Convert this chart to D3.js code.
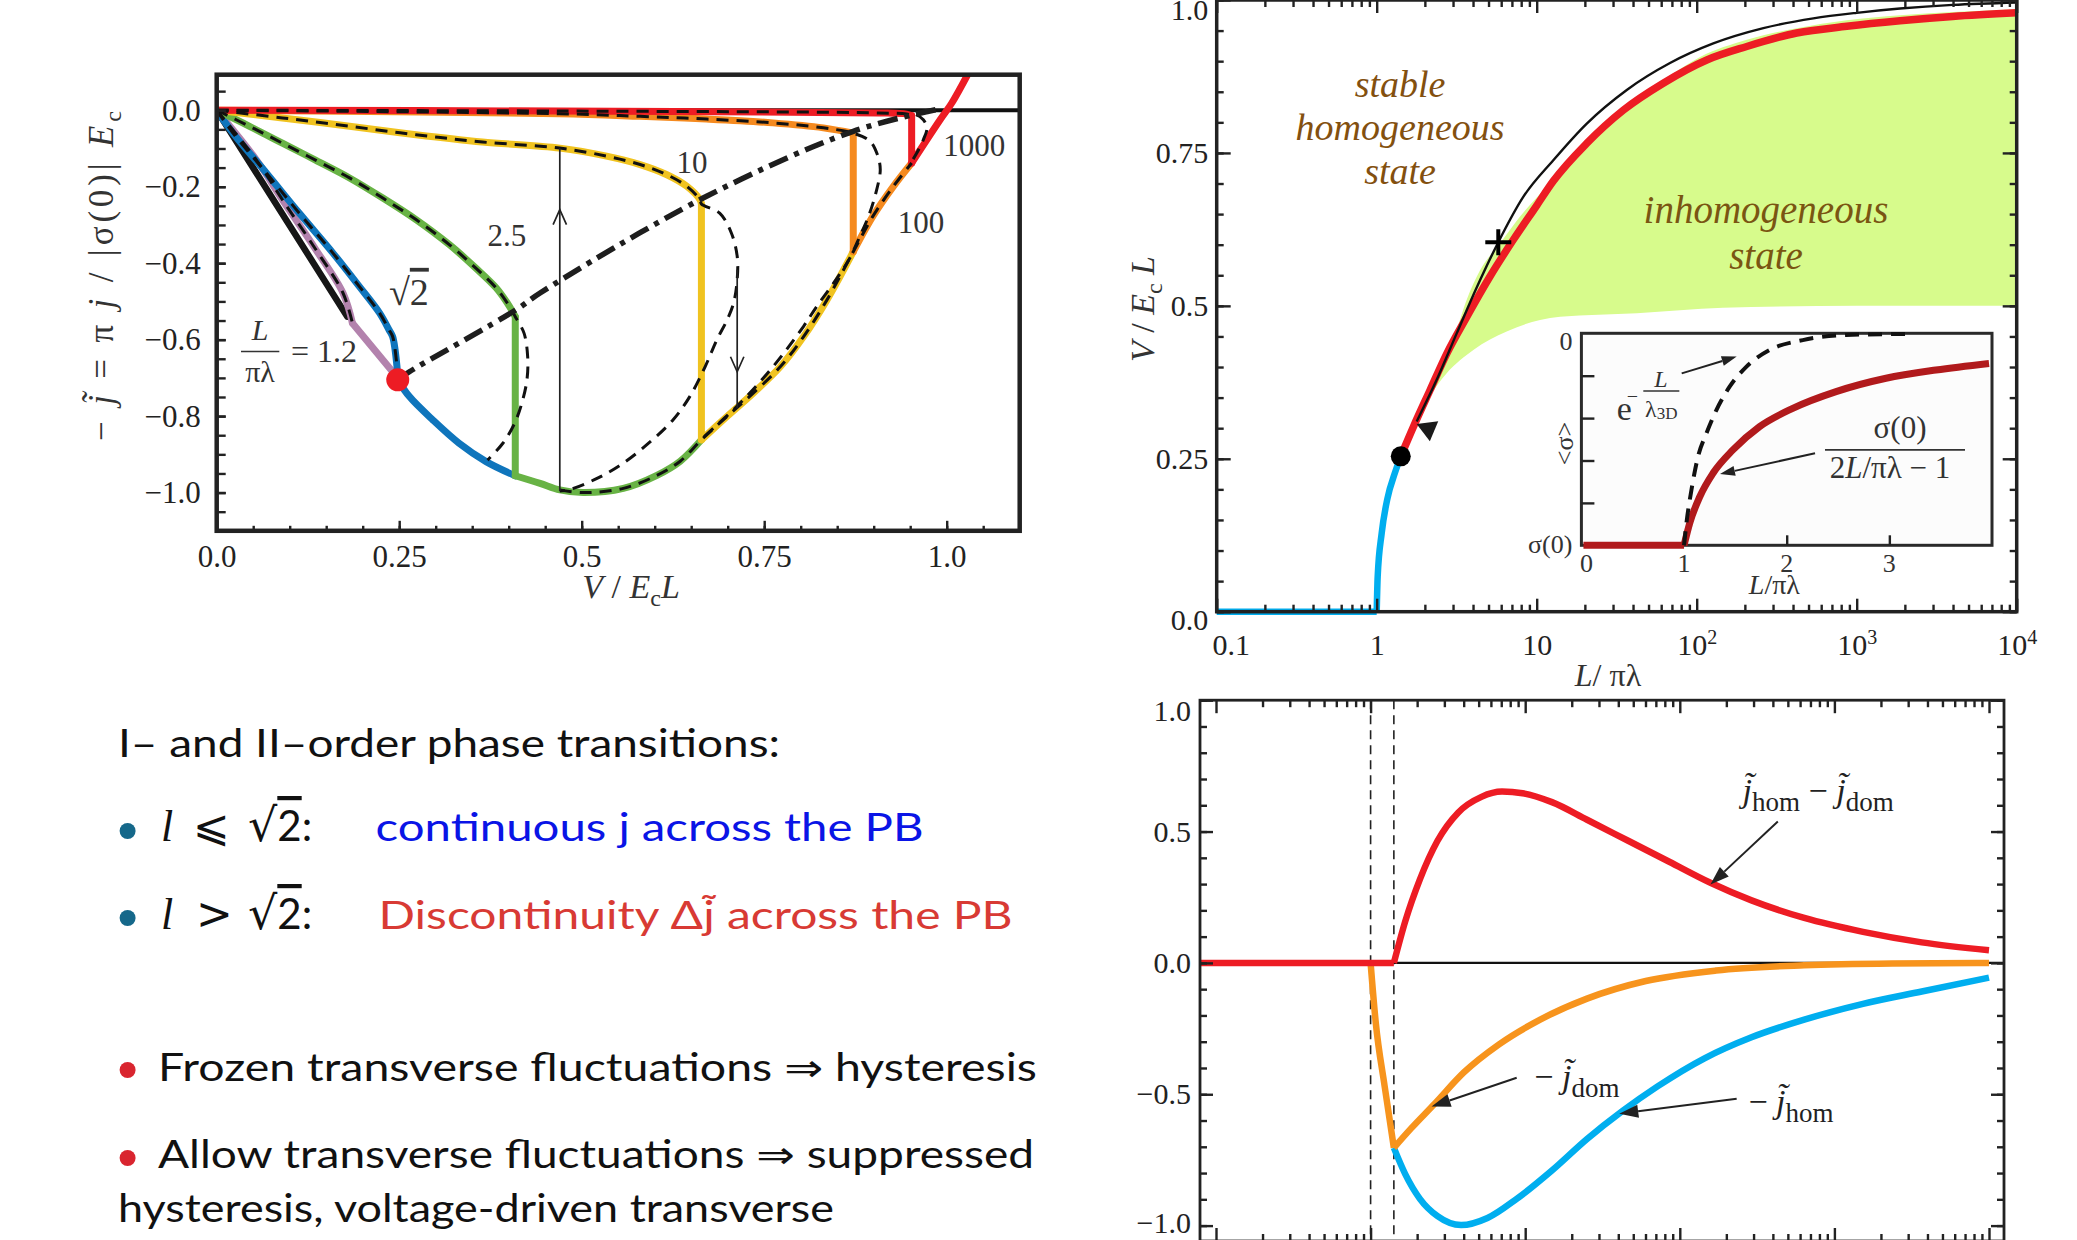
<!DOCTYPE html>
<html>
<head>
<meta charset="utf-8">
<script src="https://cdn.jsdelivr.net/npm/d3@7"></script>
<style>
  body { margin: 0; background: #fff; }
  svg { display: block; }
</style>
</head>
<body>
<svg id="chart" width="2077" height="1240"></svg>
<script>
//---------------- data ----------------

//Left panel: current vs voltage, [V/EcL, -j]
const ivEnvelope = [[0.248,-0.705],[0.264,-0.749],[0.296,-0.810],[0.332,-0.871],[0.369,-0.919],[0.409,-0.956],
  [0.443,-0.976],[0.470,-0.993],[0.502,-1.000],[0.557,-0.989],[0.603,-0.955],[0.635,-0.918],[0.664,-0.862],
  [0.699,-0.801],[0.735,-0.740],[0.772,-0.671],[0.804,-0.592],[0.836,-0.496],[0.872,-0.370],[0.899,-0.277],
  [0.927,-0.199],[0.952,-0.138],[0.991,-0.025],[1.007,0.019],[1.030,0.098]];
const ivL1 = [[0,0],[0.179,-0.540]];
const ivL12 = [[0,0],[0.054,-0.129],[0.090,-0.234],[0.136,-0.365],[0.173,-0.478],[0.186,-0.557]];
const ivL12Tail = [[0.186,-0.557],[0.241,-0.684],[0.248,-0.705]];
const ivSqrt2 = [[0,0],[0.022,-0.059],[0.068,-0.164],[0.113,-0.269],[0.159,-0.373],[0.195,-0.460],
  [0.223,-0.530],[0.236,-0.574],[0.241,-0.592],[0.247,-0.671],[0.248,-0.705]];
const iv25 = [[0,0],[0.045,-0.042],[0.090,-0.086],[0.136,-0.131],[0.182,-0.177],[0.227,-0.229],[0.273,-0.286],
  [0.319,-0.352],[0.355,-0.413],[0.383,-0.465],[0.401,-0.513],[0.409,-0.540]];
const iv10 = [[0,0],[0.090,-0.020],[0.182,-0.042],[0.273,-0.064],[0.364,-0.083],[0.470,-0.099],[0.534,-0.120],
  [0.580,-0.142],[0.616,-0.168],[0.644,-0.199],[0.662,-0.234],[0.664,-0.245]];
const iv100 = [[0,0],[0.469,-0.009],[0.580,-0.016],[0.671,-0.023],[0.762,-0.033],[0.831,-0.046],[0.872,-0.060]];
const iv1000 = [[0,0],[0.469,-0.002],[0.906,-0.007],[0.945,-0.010],[0.952,-0.014]];
const ivUnstable25 = [[0.421,-0.583],[0.426,-0.645],[0.425,-0.705],[0.418,-0.766],[0.408,-0.819],[0.392,-0.871],[0.371,-0.915]];
const ivUnstable10 = [[0.689,-0.269],[0.705,-0.321],[0.713,-0.382],[0.713,-0.443],[0.708,-0.505],[0.699,-0.549],
  [0.685,-0.601],[0.669,-0.671],[0.648,-0.749],[0.625,-0.810],[0.594,-0.867],[0.557,-0.923],[0.521,-0.963],
  [0.482,-0.993],[0.470,-0.996]];
const ivUnstable100 = [[0.895,-0.081],[0.905,-0.116],[0.909,-0.155],[0.903,-0.216],[0.893,-0.277],[0.881,-0.330],
  [0.866,-0.391],[0.845,-0.452],[0.822,-0.513],[0.804,-0.565],[0.762,-0.671],[0.717,-0.766],[0.664,-0.860]];
const ivUnstable1000 = [[0.957,-0.011],[0.968,-0.025],[0.973,-0.046],[0.968,-0.077],[0.959,-0.112],[0.953,-0.131]];
const ivSpinodal = [[0.248,-0.705],[0.264,-0.684],[0.410,-0.522],[0.443,-0.478],[0.667,-0.229],[0.872,-0.055],[0.986,0.002]];
const ivCritical = [0.248,-0.705];
//[V, from, to, head]
const ivArrowUp = [0.470,-0.996,-0.099,-0.26];
const ivArrowDown = [0.713,-0.417,-0.780,-0.684];
const ivLabels = [["1000",0.9953,-0.120],["100",0.933,-0.321],["10",0.630,-0.164],["2.5",0.371,-0.356]];
const ivXTicks = [0,0.25,0.5,0.75,1.0];
const ivXTickLabels = ["0.0","0.25","0.5","0.75","1.0"];
const ivYTicks = [0,-0.2,-0.4,-0.6,-0.8,-1.0];

//Right top: phase diagram, [L/pi lambda, V/EcL]
const phaseBlueFlat = [[0.1,0],[1,0]];
const phaseBlue = [[1,0],[1.014,0.057],[1.074,0.128],[1.167,0.185],[1.30,0.227],[1.414,0.254]];
const phaseRed = [[1.414,0.254],[1.694,0.302],[2.153,0.362],[2.742,0.422],[3.656,0.482],[5.105,0.548],[7.145,0.608],
  [10,0.664],[12.7,0.704],[20.6,0.766],[34.8,0.820],[61.8,0.864],[115.6,0.902],[205.6,0.924],[421.7,0.946],
  [867,0.957],[1866,0.966],[3981,0.973],[10000,0.979]];
const phaseBlack = [[1.778,0.311],[2.371,0.379],[3.162,0.455],[4.217,0.530],[5.754,0.604],[8.24,0.678],[12.7,0.738],
  [20.56,0.798],[36.56,0.853],[68.1,0.897],[127,0.929],[261,0.954],[536,0.970],[1000,0.979],[1866,0.986],
  [3981,0.992],[10000,0.996]];
const phaseGreenUpper = [[2.053,0.346],[3.013,0.444],[3.652,0.510],[4.426,0.558],[5.902,0.602],[7.870,0.646],
  [11.56,0.695],[16.94,0.744],[24.89,0.788],[38.28,0.831],[61.8,0.869],[105,0.907],[205.6,0.935],[421.7,0.954],
  [867,0.967],[1866,0.975],[10000,0.985]];
const phaseGreenLower = [[2.053,0.346],[2.738,0.390],[4.018,0.428],[6.494,0.458],[10.5,0.477],[14.0,0.482],
  [42.3,0.488],[145.9,0.497],[1000,0.5],[10000,0.5]];
const phaseDot = [1.414,0.254];
const phaseCross = [5.754,0.604];
const phaseTriangle = [2.10,0.299];
const phaseXTicks = [0.1,1,10,100,1000,10000];
const phaseYTicks = [0,0.25,0.5,0.75,1.0];
const phaseYTickLabels = ["0.0","0.25","0.5","0.75","1.0"];

//Inset: <sigma>/|sigma(0)| vs L/pi lambda
const insetRedFlat = [[0.02,-1],[1,-1]];
const insetRed = [[1,-1],[1.055,-0.896],[1.153,-0.771],[1.282,-0.660],[1.476,-0.550],[1.736,-0.440],[2.059,-0.354],
  [2.481,-0.275],[2.967,-0.212],[3.453,-0.173],[3.971,-0.142]];
const insetDashed = [[1,-1],[1.023,-0.896],[1.072,-0.739],[1.136,-0.582],[1.218,-0.472],[1.315,-0.362],[1.444,-0.252],
  [1.606,-0.158],[1.833,-0.079],[2.157,-0.032],[2.578,-0.008],[3.161,-0.003]];
const insetArrows = [[0.977,-0.189,1.513,-0.110],[2.276,-0.566,1.350,-0.664]];

//Right bottom: currents vs L/pi lambda
const brRedFlat = [[0.0788,0],[1.414,0]];
const brRed = [[1.414,0],[1.675,0.158],[2.084,0.318],[2.710,0.465],[3.681,0.572],[5.212,0.632],[7.079,0.652],
  [9.616,0.646],[14.89,0.612],[25.12,0.545],[46.35,0.465],[85.5,0.385],[157.8,0.305],[291.1,0.238],[638.3,0.171],
  [1531,0.118],[3673,0.078],[10000,0.048]];
const brOrangeDrop = [[1,0],[1.081,-0.230],[1.233,-0.470],[1.414,-0.704]];
const brOrange = [[1.414,-0.704],[1.828,-0.630],[2.588,-0.537],[4.009,-0.417],[6.776,-0.310],[12.5,-0.216],
  [25.12,-0.136],[60.26,-0.069],[171.8,-0.029],[638.3,-0.009],[2371,-0.002],[10000,0]];
const brBlue = [[1.414,-0.704],[1.675,-0.804],[2.084,-0.898],[2.710,-0.964],[3.846,-0.998],[5.702,-0.971],
  [8.81,-0.898],[14.89,-0.790],[25.12,-0.670],[42.46,-0.564],[71.78,-0.470],[144.5,-0.363],[291.1,-0.283],
  [638.3,-0.216],[1531,-0.156],[3673,-0.109],[10000,-0.056]];
const brZero = [[1.414,0],[12500,0]];
const brBoundaries = [1, 1.414];
const brArrows = [[430.5,0.538,157.8,0.298],[8.81,-0.437,2.48,-0.547],[233.3,-0.517,40.6,-0.574]];
const brYTicks = [-1,-0.5,0,0.5,1];

//---------------- helpers ----------------
const svg = d3.select("#chart");
const serif = '"Liberation Serif","Times New Roman",serif';
const ink = "#222";

function ticks(g, scale, orient, pos, values, len, fmt, pad, fs) {
  const make = {bottom: d3.axisBottom, top: d3.axisTop, left: d3.axisLeft, right: d3.axisRight}[orient];
  const ax = make(scale).tickValues(values).tickSizeInner(-len).tickSizeOuter(0)
    .tickPadding(pad || 0).tickFormat(fmt || (() => ""));
  const horiz = orient === "bottom" || orient === "top";
  const s = g.append("g")
    .attr("transform", horiz ? "translate(0," + pos + ")" : "translate(" + pos + ",0)")
    .call(ax);
  s.select(".domain").remove();
  s.selectAll(".tick line").attr("stroke", ink).attr("stroke-width", 2.4);
  s.selectAll(".tick text").attr("fill", ink)
    .style("font-family", serif).style("font-size", (fs || 30) + "px");
  return s;
}

function logMinors(lo, hi) {
  const out = [];
  for (let d = lo; d < hi; d *= 10) for (let k = 2; k <= 9; k++) out.push(d * k);
  return out;
}

function arrowTo(g, x1, y1, x2, y2, len, half) {
  const a = Math.atan2(y2 - y1, x2 - x1);
  const bx = x2 - len * Math.cos(a), by = y2 - len * Math.sin(a);
  g.append("line").attr("x1", x1).attr("y1", y1).attr("x2", bx).attr("y2", by)
    .attr("stroke", ink).attr("stroke-width", 2);
  g.append("path")
    .attr("d", "M" + x2 + "," + y2 + "L" + (bx - half * Math.sin(a)) + "," + (by + half * Math.cos(a)) +
      "L" + (bx + half * Math.sin(a)) + "," + (by - half * Math.cos(a)) + "Z")
    .attr("fill", ink);
}

//---------------- left panel ----------------
const tlX = d3.scaleLinear().domain([0, 1.1]).range([216.7, 1019.7]);
const tlY = d3.scaleLinear().domain([-1.1, 0.093]).range([530.8, 74.7]);
const tl = svg.append("g");

svg.append("clipPath").attr("id", "tlClip").append("rect")
  .attr("x", tlX(0)).attr("y", tlY(0.093))
  .attr("width", tlX(1.1) - tlX(0)).attr("height", tlY(-1.1) - tlY(0.093));
const tlPlot = tl.append("g").attr("clip-path", "url(#tlClip)");

const tlCurve = d3.line().x(d => tlX(d[0])).y(d => tlY(d[1])).curve(d3.curveCatmullRom.alpha(0.5));
const tlLin = d3.line().x(d => tlX(d[0])).y(d => tlY(d[1]));
const envSeg = (a, b) => ivEnvelope.filter(d => d[0] >= a - 1e-6 && d[0] <= b + 1e-6);
const drop = br => { const p = br[br.length - 1]; return [p, ivEnvelope.find(d => Math.abs(d[0] - p[0]) < 1e-6)]; };

function solid(pts, color, w, lin) {
  tlPlot.append("path").attr("d", (lin ? tlLin : tlCurve)(pts))
    .attr("fill", "none").attr("stroke", color).attr("stroke-width", w)
    .attr("stroke-linecap", "round").attr("stroke-linejoin", "round");
}
function dashed(pts) {
  tlPlot.append("path").attr("d", tlCurve(pts))
    .attr("fill", "none").attr("stroke", "#111").attr("stroke-width", 3)
    .attr("stroke-dasharray", "12,8");
}

//zero line
solid([[0, 0], [1.1, 0]], "#111", 4, true);

//solution branches
solid(ivL1, "#161616", 6.5, true);
solid(ivL12, "#b382ad", 7);
solid(ivL12Tail, "#b382ad", 7, true);
solid(ivSqrt2, "#0f75bc", 7);
solid(envSeg(0.248, 0.409), "#0f75bc", 7);
const branches = [[iv25, "#68b345", 0.409, 0.664], [iv10, "#f0c320", 0.664, 0.872],
  [iv100, "#f58a1f", 0.872, 0.952], [iv1000, "#ed1c24", 0.952, 1.1]];
branches.forEach(b => {
  solid(b[0], b[1], 7);
  solid(drop(b[0]), b[1], 7, true);
  solid(envSeg(b[2], b[3]), b[1], 7);
});

//dashed overlays
dashed(ivL12);
dashed(ivSqrt2);
dashed(iv25.concat(ivUnstable25));
dashed(iv10.concat(ivUnstable10));
dashed(iv100.concat(ivUnstable100));
dashed(iv1000.concat(ivUnstable1000));
dashed(envSeg(0.470, 0.952));

//transition line
tlPlot.append("path").attr("d", tlCurve(ivSpinodal))
  .attr("fill", "none").attr("stroke", "#1e1e1e").attr("stroke-width", 5.5)
  .attr("stroke-dasharray", "20,7,5,7");

//hysteresis arrows
[[ivArrowUp, -1], [ivArrowDown, 1]].forEach(([a, dir]) => {
  const x = tlX(a[0]);
  tl.append("line").attr("x1", x).attr("x2", x).attr("y1", tlY(a[1])).attr("y2", tlY(a[2]))
    .attr("stroke", ink).attr("stroke-width", 1.7);
  const hy = tlY(a[3]);
  tl.append("path").attr("d", "M" + (x - 6.7) + "," + (hy - dir * 15) + "L" + x + "," + hy + "L" + (x + 6.7) + "," + (hy - dir * 15))
    .attr("fill", "none").attr("stroke", ink).attr("stroke-width", 1.7);
});

//critical point
tl.append("circle").attr("cx", tlX(ivCritical[0])).attr("cy", tlY(ivCritical[1])).attr("r", 11.5).attr("fill", "#ed1c24");

//curve labels
tl.selectAll(".ivlab").data(ivLabels).enter().append("text")
  .attr("x", d => tlX(d[1])).attr("y", d => tlY(d[2]))
  .style("font-family", serif).style("font-size", "31px").attr("fill", "#333")
  .text(d => d[0]);
const s2 = tl.append("text").attr("x", tlX(0.236)).attr("y", tlY(-0.509))
  .style("font-family", serif).style("font-size", "38px").attr("fill", "#333");
s2.append("tspan").text("√");
s2.append("tspan").text("2").style("text-decoration", "overline");
const fracX = tlX(0.0593);
tl.append("text").attr("x", fracX).attr("y", tlY(-0.601)).attr("text-anchor", "middle")
  .style("font-family", serif).style("font-size", "30px").style("font-style", "italic").attr("fill", "#333").text("L");
tl.append("line").attr("x1", tlX(0.0333)).attr("x2", tlX(0.0858)).attr("y1", tlY(-0.631)).attr("y2", tlY(-0.631))
  .attr("stroke", "#333").attr("stroke-width", 1.6);
tl.append("text").attr("x", fracX).attr("y", tlY(-0.710)).attr("text-anchor", "middle")
  .style("font-family", serif).style("font-size", "30px").attr("fill", "#333").text("πλ");
tl.append("text").attr("x", tlX(0.1018)).attr("y", tlY(-0.658))
  .style("font-family", serif).style("font-size", "32px").attr("fill", "#333").text("= 1.2");

//frame and ticks
tl.append("rect").attr("x", tlX(0)).attr("y", tlY(0.093))
  .attr("width", tlX(1.1) - tlX(0)).attr("height", tlY(-1.1) - tlY(0.093))
  .attr("fill", "none").attr("stroke", ink).attr("stroke-width", 4.5);
ticks(tl, tlX, "bottom", tlY(-1.1), d3.range(0.05, 1.1, 0.05), 5);
ticks(tl, tlX, "bottom", tlY(-1.1), ivXTicks, 10, (d, i) => ivXTickLabels[i], 14, 31);
ticks(tl, tlY, "left", tlX(0), d3.range(-1.05, 0.06, 0.05), 9);
ticks(tl, tlY, "left", tlX(0), ivYTicks, 9, d3.format(".1f"), 16, 31);

//axis titles
const tlxt = tl.append("text").attr("x", 631).attr("y", 598).attr("text-anchor", "middle")
  .style("font-family", serif).style("font-size", "34px").attr("fill", "#333");
tlxt.append("tspan").style("font-style", "italic").text("V");
tlxt.append("tspan").text(" / ");
tlxt.append("tspan").style("font-style", "italic").text("E");
tlxt.append("tspan").attr("dy", 8).style("font-size", "24px").text("c");
tlxt.append("tspan").attr("dy", -8).style("font-style", "italic").text("L");
const tlyt = tl.append("text").attr("transform", "translate(113,276) rotate(-90)").attr("text-anchor", "middle")
  .style("font-family", serif).style("font-size", "35px").attr("fill", "#333")
  .attr("textLength", 330).attr("lengthAdjust", "spacing");
tlyt.append("tspan").text("− ");
tlyt.append("tspan").style("font-style", "italic").text("j\u0303");
tlyt.append("tspan").text(" = π ");
tlyt.append("tspan").style("font-style", "italic").text("j");
tlyt.append("tspan").text(" / |σ(0)| ");
tlyt.append("tspan").style("font-style", "italic").text("E");
tlyt.append("tspan").attr("dy", 8).style("font-size", "24px").text("c");

//---------------- right top panel ----------------
const trX = d3.scaleLog().domain([0.1, 1e4]).range([1216.7, 2016.7]);
const trY = d3.scaleLinear().domain([0, 1]).range([611.7, 0]);
const tr = svg.append("g");
const trLine = d3.line().x(d => trX(d[0])).y(d => trY(d[1])).curve(d3.curveMonotoneX);

//inhomogeneous region
const upperPath = trLine(phaseGreenUpper);
const lowerPath = trLine(phaseGreenLower.slice().reverse());
tr.append("path").attr("d", upperPath + "L" + lowerPath.slice(1) + "Z").attr("fill", "#d7fb8c");

//region labels
const brown = "#83500f";
["stable", "homogeneous", "state"].forEach((t, i) => {
  tr.append("text").attr("x", trX(1.40)).attr("y", trY([0.842, 0.771, 0.700][i]))
    .attr("text-anchor", "middle").style("font-family", serif).style("font-style", "italic")
    .style("font-size", "38px").attr("fill", brown).text(t);
});
["inhomogeneous", "state"].forEach((t, i) => {
  tr.append("text").attr("x", trX(271)).attr("y", trY([0.635, 0.561][i]))
    .attr("text-anchor", "middle").style("font-family", serif).style("font-style", "italic")
    .style("font-size", "39px").attr("fill", "#7a5512").text(t);
});

//curves
tr.append("path").attr("d", d3.line().x(d => trX(d[0])).y(d => trY(d[1]))(phaseBlueFlat))
  .attr("fill", "none").attr("stroke", "#00aeef").attr("stroke-width", 6.5);
tr.append("path").attr("d", trLine(phaseBlue))
  .attr("fill", "none").attr("stroke", "#00aeef").attr("stroke-width", 6.5);
tr.append("path").attr("d", trLine(phaseRed))
  .attr("fill", "none").attr("stroke", "#ed1c24").attr("stroke-width", 7.5);
tr.append("path").attr("d", trLine(phaseBlack))
  .attr("fill", "none").attr("stroke", "#111").attr("stroke-width", 2.4);

//markers
tr.append("circle").attr("cx", trX(phaseDot[0])).attr("cy", trY(phaseDot[1])).attr("r", 10).attr("fill", "#000");
const cx = trX(phaseCross[0]), cy = trY(phaseCross[1]);
tr.append("path").attr("d", "M" + (cx - 13) + "," + cy + "H" + (cx + 13) + "M" + cx + "," + (cy - 13) + "V" + (cy + 13))
  .attr("stroke", "#000").attr("stroke-width", 4);
tr.append("path").attr("d", d3.symbol().type(d3.symbolTriangle).size(205)())
  .attr("transform", "translate(" + trX(phaseTriangle[0]) + "," + trY(phaseTriangle[1]) + ") rotate(172.7)")
  .attr("fill", "#1a1a1a");

//frame and ticks
tr.append("rect").attr("x", trX(0.1)).attr("y", trY(1))
  .attr("width", trX(1e4) - trX(0.1)).attr("height", trY(0) - trY(1))
  .attr("fill", "none").attr("stroke", ink).attr("stroke-width", 3.5);
const phaseMinor = logMinors(0.1, 1e4);
ticks(tr, trX, "bottom", trY(0), phaseMinor, 7);
ticks(tr, trX, "top", trY(1), phaseMinor, 7);
ticks(tr, trX, "top", trY(1), phaseXTicks, 13);
const trBottom = ticks(tr, trX, "bottom", trY(0), phaseXTicks, 13, d => d, 22, 30);
trBottom.selectAll(".tick text").each(function (d) {
  const t = d3.select(this).text("");
  if (d >= 100) {
    t.append("tspan").text("10");
    t.append("tspan").attr("dy", "-0.55em").style("font-size", "20px").text(Math.round(Math.log10(d)));
  } else {
    t.text(d === 0.1 ? "0.1" : d);
    if (d === 0.1) t.attr("x", 14);
  }
});
ticks(tr, trY, "left", trX(0.1), d3.range(0, 1.001, 0.05), 7);
ticks(tr, trY, "right", trX(1e4), d3.range(0, 1.001, 0.05), 7);
ticks(tr, trY, "right", trX(1e4), phaseYTicks, 14);
const trLeft = ticks(tr, trY, "left", trX(0.1), phaseYTicks, 14, (d, i) => phaseYTickLabels[i], 8.4, 30);
trLeft.selectAll(".tick text").attr("y", d => d === 0 ? 8 : d === 1 ? 10 : 0);

//axis titles
const trxt = tr.append("text").attr("x", 1608).attr("y", 686).attr("text-anchor", "middle")
  .style("font-family", serif).style("font-size", "32px").attr("fill", "#333");
trxt.append("tspan").style("font-style", "italic").text("L");
trxt.append("tspan").text("/ πλ");
const tryt = tr.append("text").attr("transform", "translate(1154,309) rotate(-90)").attr("text-anchor", "middle")
  .style("font-family", serif).style("font-size", "34px").attr("fill", "#333");
tryt.append("tspan").style("font-style", "italic").text("V");
tryt.append("tspan").text(" / ");
tryt.append("tspan").style("font-style", "italic").text("E");
tryt.append("tspan").attr("dy", 8).style("font-size", "24px").text("c");
tryt.append("tspan").attr("dy", -8).style("font-style", "italic").text(" L");

//---------------- inset ----------------
const inX = d3.scaleLinear().domain([0, 4]).range([1581.4, 1992]);
const inY = d3.scaleLinear().domain([-1, 0]).range([545.3, 333.3]);
const inset = svg.append("g");
const inLine = d3.line().x(d => inX(d[0])).y(d => inY(d[1])).curve(d3.curveMonotoneX);
inset.append("rect").attr("x", inX(0)).attr("y", inY(0)).attr("width", inX(4) - inX(0)).attr("height", inY(-1) - inY(0))
  .attr("fill", "#fcfcfc").attr("stroke", "#2a2a2a").attr("stroke-width", 3);
ticks(inset, inY, "left", inX(0), [-0.8, -0.6, -0.4, -0.2], 13);
ticks(inset, inX, "bottom", inY(-1), [1, 2, 3], 10);
inset.append("path").attr("d", d3.line().x(d => inX(d[0])).y(d => inY(d[1]))(insetRedFlat))
  .attr("fill", "none").attr("stroke", "#b11a1c").attr("stroke-width", 7);
inset.append("path").attr("d", inLine(insetRed))
  .attr("fill", "none").attr("stroke", "#b11a1c").attr("stroke-width", 7);
inset.append("path").attr("d", inLine(insetDashed))
  .attr("fill", "none").attr("stroke", "#111").attr("stroke-width", 4).attr("stroke-dasharray", "14,9");
insetArrows.forEach(a => arrowTo(inset, inX(a[0]), inY(a[1]), inX(a[2]), inY(a[3]), 15, 5));

const inText = (x, y, t, anchor, size) => inset.append("text").attr("x", x).attr("y", y)
  .attr("text-anchor", anchor || "start").style("font-family", serif).style("font-size", (size || 26) + "px")
  .attr("fill", "#333").text(t);
[0, 1, 2, 3].forEach(v => inText(inX(v) + (v === 0 ? 5 : 0), 571.7, v, "middle"));
inText(inX(0) - 9, inY(0) + 17, "0", "end");
inText(inX(0) - 9, inY(-1) + 8, "σ(0)", "end");
inset.append("text").attr("transform", "translate(1573," + inY(-0.52) + ") rotate(-90)").attr("text-anchor", "middle")
  .style("font-family", serif).style("font-size", "26px").attr("fill", "#333").text("<σ>");
const inxt = inText(inX(1.88), 594, "", "middle", 28);
inxt.append("tspan").style("font-style", "italic").text("L");
inxt.append("tspan").text("/πλ");
//exp label
inText(inX(0.344), inY(-0.409), "e", "start", 34);
inText(inX(0.441), inY(-0.30) + 6, "−", "start", 20);
inText(inX(0.775), inY(-0.252), "L", "middle", 24).style("font-style", "italic");
inset.append("line").attr("x1", inX(0.603)).attr("x2", inX(0.954)).attr("y1", inY(-0.272)).attr("y2", inY(-0.272))
  .attr("stroke", "#333").attr("stroke-width", 1.5);
const lam = inText(inX(0.620), inY(-0.395), "λ", "start", 24);
lam.append("tspan").attr("dy", 2).style("font-size", "17px").text("3D");
//fraction label
inText(inX(3.104), inY(-0.495), "σ(0)", "middle", 31);
inset.append("line").attr("x1", inX(2.373)).attr("x2", inX(3.737)).attr("y1", inY(-0.55)).attr("y2", inY(-0.55))
  .attr("stroke", "#333").attr("stroke-width", 1.8);
const den = inText(inX(3.006), inY(-0.684), "", "middle", 31);
den.append("tspan").text("2");
den.append("tspan").style("font-style", "italic").text("L");
den.append("tspan").text("/πλ − 1");

//---------------- right bottom panel ----------------
const brX = d3.scaleLog().domain([0.1, 1e4]).range([1216, 1989]);
const brY = d3.scaleLinear().domain([-1, 1]).range([1225.6, 700.2]);
const br = svg.append("g");
const brLine = d3.line().x(d => brX(d[0])).y(d => brY(d[1])).curve(d3.curveMonotoneX);
const brLin = d3.line().x(d => brX(d[0])).y(d => brY(d[1]));
const frameL = 1200, frameR = 2004, frameB = 1241;

brBoundaries.forEach(v => {
  br.append("line").attr("x1", brX(v)).attr("x2", brX(v)).attr("y1", brY(1)).attr("y2", frameB)
    .attr("stroke", ink).attr("stroke-width", 1.6).attr("stroke-dasharray", "9,6");
});
br.append("path").attr("d", brLin(brZero)).attr("stroke", "#111").attr("stroke-width", 2.2);
br.append("path").attr("d", brLine(brBlue)).attr("fill", "none").attr("stroke", "#00aeef").attr("stroke-width", 6.5);
br.append("path").attr("d", brLine(brOrangeDrop)).attr("fill", "none").attr("stroke", "#f7941d").attr("stroke-width", 6.5);
br.append("path").attr("d", brLine(brOrange)).attr("fill", "none").attr("stroke", "#f7941d").attr("stroke-width", 6.5);
br.append("path").attr("d", brLin(brRedFlat)).attr("fill", "none").attr("stroke", "#ed1c24").attr("stroke-width", 6.5);
br.append("path").attr("d", brLine(brRed)).attr("fill", "none").attr("stroke", "#ed1c24").attr("stroke-width", 6.5);

brArrows.forEach(a => arrowTo(br, brX(a[0]), brY(a[1]), brX(a[2]), brY(a[3]), 19, 6.5));

function jLabel(L, v, parts) {
  const t = br.append("text").attr("x", brX(L)).attr("y", brY(v))
    .style("font-family", serif).style("font-size", "34px").attr("fill", "#222");
  parts.forEach(p => {
    if (p === "-") t.append("tspan").text("− ");
    else {
      t.append("tspan").style("font-style", "italic").text("j\u0303");
      t.append("tspan").attr("dy", 9).style("font-size", "27px").text(p);
      t.append("tspan").attr("dy", -9).text(" ");
    }
  });
}
jLabel(254.7, 0.6125, ["hom", "-", "dom"]);
jLabel(11.45, -0.476, ["-", "dom"]);
jLabel(277.7, -0.570, ["-", "hom"]);

br.append("rect").attr("x", frameL).attr("y", brY(1)).attr("width", frameR - frameL).attr("height", frameB - brY(1))
  .attr("fill", "none").attr("stroke", ink).attr("stroke-width", 2.8);
const brMinor = logMinors(0.1, 1e4);
ticks(br, brX, "top", brY(1), brMinor, 7);
ticks(br, brX, "top", brY(1), phaseXTicks, 13);
ticks(br, brX, "bottom", frameB, brMinor, 7);
ticks(br, brX, "bottom", frameB, phaseXTicks, 13);
ticks(br, brY, "left", frameL, d3.range(-1, 1.001, 0.1), 7);
ticks(br, brY, "right", frameR, d3.range(-1, 1.001, 0.1), 7);
ticks(br, brY, "right", frameR, brYTicks, 13);
const brLeft = ticks(br, brY, "left", frameL, brYTicks, 13, d3.format(".1f"), 9, 30);
brLeft.selectAll(".tick text").attr("y", d => d === 1 ? 11 : d === -1 ? -3 : 0);

//---------------- notes ----------------
const sans = 'Lato,"DejaVu Sans",sans-serif';
const notes = svg.append("g").style("font-family", sans).style("font-size", "38px").attr("fill", "#111");
const line = (x, y, t, len, color) => notes.append("text").attr("x", x).attr("y", y).attr("fill", color || "#111")
  .attr("textLength", len).attr("lengthAdjust", "spacingAndGlyphs").text(t);

line(118, 757, "I– and II–order phase transitions:", 662);

function mathPart(y, rel, relX) {
  const t = notes.append("text").attr("y", y);
  t.append("tspan").attr("x", 161).style("font-family", serif).style("font-style", "italic").style("font-size", "44px").text("l");
  t.append("tspan").attr("x", relX).style("font-family", '"DejaVu Sans",sans-serif').style("font-size", "44px").text(rel);
  t.append("tspan").attr("x", 248).style("font-family", '"DejaVu Sans",sans-serif').style("font-size", "46px").text("√");
  t.append("tspan").style("font-size", "42px").style("text-decoration", "overline").text("2");
  t.append("tspan").style("font-size", "42px").text(":");
}
notes.append("circle").attr("cx", 127.6).attr("cy", 831).attr("r", 8).attr("fill", "#15688a");
mathPart(841, "⩽", 193);
line(375.6, 841, "continuous j across the PB", 548, "#0a14e6");

notes.append("circle").attr("cx", 127.6).attr("cy", 918).attr("r", 8).attr("fill", "#15688a");
mathPart(929, ">", 196);
line(378.6, 929, "Discontinuity Δj\u0303 across the PB", 634, "#d83a34");

notes.append("circle").attr("cx", 127.6).attr("cy", 1070).attr("r", 8).attr("fill", "#d9252f");
line(158, 1080.5, "Frozen transverse fluctuations ⇒ hysteresis", 879);

notes.append("circle").attr("cx", 127.6).attr("cy", 1158).attr("r", 8).attr("fill", "#d9252f");
line(158, 1168, "Allow transverse fluctuations ⇒ suppressed", 876);

line(118, 1222, "hysteresis, voltage-driven transverse", 716);
</script>
</body>
</html>
